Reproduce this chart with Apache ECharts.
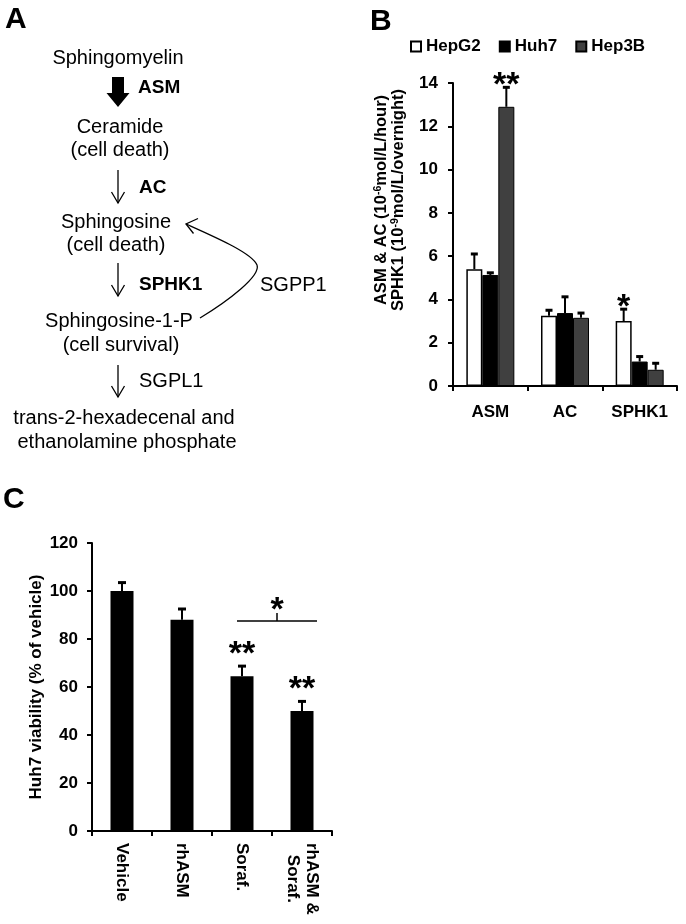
<!DOCTYPE html>
<html>
<head>
<meta charset="utf-8">
<script src="https://cdn.jsdelivr.net/npm/echarts@6/dist/echarts.min.js"></script>
<style>
  html, body { margin: 0; padding: 0; background: #fff; }
  #main { width: 686px; height: 924px; }
</style>
</head>
<body>
<div id="main"></div>
<script>
var FONT = '"Liberation Sans", Arial, sans-serif';

// panel B: enzyme activity per cell line
var groups = ['ASM', 'AC', 'SPHK1'];
var cellLines = ['HepG2', 'Huh7', 'Hep3B'];
var hepg2 = [5.4, 3.25, 3.0];
var hepg2Err = [0.7, 0.25, 0.55];
var huh7 = [5.13, 3.37, 1.13];
var huh7Err = [0.1, 0.75, 0.23];
var hep3b = [12.9, 3.15, 0.75];
var hep3bErr = [0.9, 0.22, 0.3];
var hepg2Stars = ['', '', '*'];
var huh7Stars = ['', '', ''];
var hep3bStars = ['**', '', ''];
var bTicks = [0, 2, 4, 6, 8, 10, 12, 14];

// panel C: Huh7 viability
var treatments = ['Vehicle', 'rhASM', 'Soraf.', 'rhASM &\nSoraf.'];
var viability = [100, 88, 64.5, 50];
var viabilityErr = [3.5, 4.5, 4.2, 4];
var viabilityStars = ['', '', '**', '**'];
var cTicks = [0, 20, 40, 60, 80, 100, 120];
var bracket = [2, 3, 87.5]; // from category, to category, level

var chart = echarts.init(document.getElementById('main'), null, { renderer: 'canvas' });

function bold(size) {
  return { fontFamily: FONT, fontWeight: 'bold', fontSize: size, color: '#000' };
}

function errorSeries(name, gi, means, errs, stars, offset, cap, starGap) {
  return {
    type: 'custom',
    name: name,
    xAxisIndex: gi,
    yAxisIndex: gi,
    z: 5,
    silent: true,
    data: means.map(function (m, i) { return [i, m, errs[i]]; }),
    renderItem: function (params, api) {
      var i = api.value(0);
      var base = api.coord([i, api.value(1)]);
      var top = api.coord([i, api.value(1) + api.value(2)]);
      var x = base[0] + offset;
      var kids = [
        { type: 'line', shape: { x1: x, y1: base[1], x2: x, y2: top[1] }, style: { stroke: '#000', lineWidth: 2 } },
        { type: 'line', shape: { x1: x - cap, y1: top[1], x2: x + cap, y2: top[1] }, style: { stroke: '#000', lineWidth: 3 } }
      ];
      if (stars[i]) {
        kids.push({
          type: 'text', x: x, y: top[1] - starGap,
          style: { text: stars[i], font: 'bold 34px ' + FONT, fill: '#000', textAlign: 'center', textVerticalAlign: 'middle' }
        });
      }
      return { type: 'group', children: kids };
    }
  };
}

// pathway diagram (panel A)
function txt(s, x, y, align, isBold) {
  return {
    type: 'text', x: x, y: y - 6,
    style: {
      text: s, fill: '#000', textAlign: align, textVerticalAlign: 'middle',
      font: (isBold ? 'bold 19px ' : '20px ') + FONT
    }
  };
}
function thinArrow(x, y1, y2) {
  return [
    { type: 'line', shape: { x1: x, y1: y1, x2: x, y2: y2 }, style: { stroke: '#000', lineWidth: 1.3 } },
    { type: 'polyline', shape: { points: [[x - 6.5, y2 - 11], [x, y2], [x + 6.5, y2 - 11]] }, style: { stroke: '#000', lineWidth: 1.3, fill: null } }
  ];
}

var diagram = [
  txt('Sphingomyelin', 118, 64, 'center'),
  txt('ASM', 138, 94, 'left', true),
  txt('Ceramide', 120, 133, 'center'),
  txt('(cell death)', 120, 156, 'center'),
  txt('AC', 139, 194, 'left', true),
  txt('Sphingosine', 116, 228, 'center'),
  txt('(cell death)', 116, 251, 'center'),
  txt('SPHK1', 139, 291, 'left', true),
  txt('SGPP1', 260, 291, 'left'),
  txt('Sphingosine-1-P', 119, 327, 'center'),
  txt('(cell survival)', 121, 351, 'center'),
  txt('SGPL1', 139, 387, 'left'),
  txt('trans-2-hexadecenal and', 124, 424, 'center'),
  txt('ethanolamine phosphate', 127, 448, 'center'),
  {
    type: 'polygon',
    shape: { points: [[112, 77], [124, 77], [124, 93], [129.5, 93], [118, 107], [106.5, 93], [112, 93]] },
    style: { fill: '#000' }
  },
  {
    type: 'bezierCurve',
    shape: { x1: 186, y1: 224, cpx1: 215, cpy1: 237, cpx2: 252, cpy2: 253, x2: 257, y2: 265 },
    style: { stroke: '#000', lineWidth: 1.3, fill: null }
  },
  {
    type: 'bezierCurve',
    shape: { x1: 257, y1: 265, cpx1: 261, cpy1: 276, cpx2: 228, cpy2: 301, x2: 200, y2: 318 },
    style: { stroke: '#000', lineWidth: 1.3, fill: null }
  },
  {
    type: 'polyline',
    shape: { points: [[198, 218.5], [186, 224], [193.5, 233.5]] },
    style: { stroke: '#000', lineWidth: 1.3, fill: null }
  }
].concat(thinArrow(118, 170, 203), thinArrow(118, 263, 296), thinArrow(118, 365, 397));

var panelLabels = [
  { type: 'text', x: 5, y: 5, style: { text: 'A', font: 'bold 30px ' + FONT, fill: '#000', textAlign: 'left', textVerticalAlign: 'top' } },
  { type: 'text', x: 370, y: 7, style: { text: 'B', font: 'bold 30px ' + FONT, fill: '#000', textAlign: 'left', textVerticalAlign: 'top' } },
  { type: 'text', x: 3, y: 485, style: { text: 'C', font: 'bold 30px ' + FONT, fill: '#000', textAlign: 'left', textVerticalAlign: 'top' } },
  {
    type: 'text', x: 390, y: 200, rotation: Math.PI / 2,
    style: {
      text: '{n|ASM & AC (10}{s|-6}{n|mol/L/hour)}\n{n|SPHK1 (10}{s|-9}{n|mol/L/overnight)}',
      textAlign: 'center', textVerticalAlign: 'middle', fill: '#000',
      rich: {
        n: { fontFamily: FONT, fontWeight: 'bold', fontSize: 16.5, lineHeight: 17 },
        s: { fontFamily: FONT, fontWeight: 'bold', fontSize: 10.5, lineHeight: 17, verticalAlign: 'top' }
      }
    }
  }
];

var axisLineStyle = { show: true, lineStyle: { color: '#000', width: 2 } };
var axisTickStyle = { show: true, length: 5, lineStyle: { color: '#000', width: 2 } };

var option = {
  animation: false,
  backgroundColor: '#fff',
  textStyle: { fontFamily: FONT },
  legend: {
    data: cellLines,
    left: 410, top: 38, padding: 0,
    icon: 'rect', itemWidth: 10, itemHeight: 10, itemGap: 18,
    textStyle: bold(17),
    selectedMode: false
  },
  grid: [
    { left: 453, top: 83, width: 224, height: 303, outerBoundsMode: 'none', containLabel: false },
    { left: 92, top: 543, width: 240, height: 288, outerBoundsMode: 'none', containLabel: false }
  ],
  xAxis: [
    {
      type: 'category', gridIndex: 0, data: groups,
      axisLine: axisLineStyle, axisTick: axisTickStyle,
      axisLabel: Object.assign({ margin: 18 }, bold(17))
    },
    {
      type: 'category', gridIndex: 1, data: treatments,
      axisLine: axisLineStyle, axisTick: axisTickStyle,
      axisLabel: {
        rotate: -90, margin: 12,
        formatter: function (v) {
          return v.split('\n').map(function (s) { return '{c|' + s + '}'; }).join('\n');
        },
        rich: { c: Object.assign({ align: 'center', lineHeight: 19 }, bold(17)) }
      }
    }
  ],
  yAxis: [
    {
      type: 'value', gridIndex: 0,
      min: bTicks[0], max: bTicks[bTicks.length - 1], interval: bTicks[1] - bTicks[0],
      axisLine: axisLineStyle, axisTick: axisTickStyle, splitLine: { show: false },
      axisLabel: Object.assign({ margin: 15 }, bold(17))
    },
    {
      type: 'value', gridIndex: 1,
      min: cTicks[0], max: cTicks[cTicks.length - 1], interval: cTicks[1] - cTicks[0],
      name: 'Huh7 viability (% of vehicle)', nameLocation: 'middle', nameGap: 47,
      nameTextStyle: bold(17),
      axisLine: axisLineStyle, axisTick: axisTickStyle, splitLine: { show: false },
      axisLabel: Object.assign({ margin: 14 }, bold(17))
    }
  ],
  series: [
    {
      type: 'bar', name: 'HepG2', xAxisIndex: 0, yAxisIndex: 0, data: hepg2,
      barWidth: 16, barGap: '0%',
      itemStyle: { color: '#fff', borderColor: '#000', borderWidth: 1.5 }
    },
    {
      type: 'bar', name: 'Huh7', xAxisIndex: 0, yAxisIndex: 0, data: huh7,
      barWidth: 16, barGap: '0%',
      itemStyle: { color: '#000', borderColor: '#000', borderWidth: 1 }
    },
    {
      type: 'bar', name: 'Hep3B', xAxisIndex: 0, yAxisIndex: 0, data: hep3b,
      barWidth: 16, barGap: '0%',
      itemStyle: { color: '#404040', borderColor: '#000', borderWidth: 1 }
    },
    errorSeries('errHepG2', 0, hepg2, hepg2Err, hepg2Stars, -16, 3.5, 2),
    errorSeries('errHuh7', 0, huh7, huh7Err, huh7Stars, 0, 3.5, 2),
    errorSeries('errHep3B', 0, hep3b, hep3bErr, hep3bStars, 16, 3.5, 2),
    {
      type: 'bar', name: 'Viability', xAxisIndex: 1, yAxisIndex: 1, data: viability,
      barWidth: 23, itemStyle: { color: '#000' }
    },
    errorSeries('errViability', 1, viability, viabilityErr, viabilityStars, 0, 4, 11.5),
    {
      type: 'custom', name: 'bracket', xAxisIndex: 1, yAxisIndex: 1, z: 5, silent: true,
      data: [bracket],
      renderItem: function (params, api) {
        var a = api.coord([api.value(0), api.value(2)]);
        var b = api.coord([api.value(1), api.value(2)]);
        var x1 = a[0] - 5, x2 = b[0] + 15, mid = (x1 + x2) / 2, y = a[1];
        return {
          type: 'group', children: [
            { type: 'line', shape: { x1: x1, y1: y, x2: x2, y2: y }, style: { stroke: '#000', lineWidth: 1.5 } },
            { type: 'line', shape: { x1: mid, y1: y, x2: mid, y2: y - 8 }, style: { stroke: '#000', lineWidth: 1.5 } },
            { type: 'text', x: mid, y: y - 10, style: { text: '*', font: 'bold 34px ' + FONT, fill: '#000', textAlign: 'center', textVerticalAlign: 'middle' } }
          ]
        };
      }
    }
  ],
  graphic: diagram.concat(panelLabels)
};

chart.setOption(option);
</script>
</body>
</html>
